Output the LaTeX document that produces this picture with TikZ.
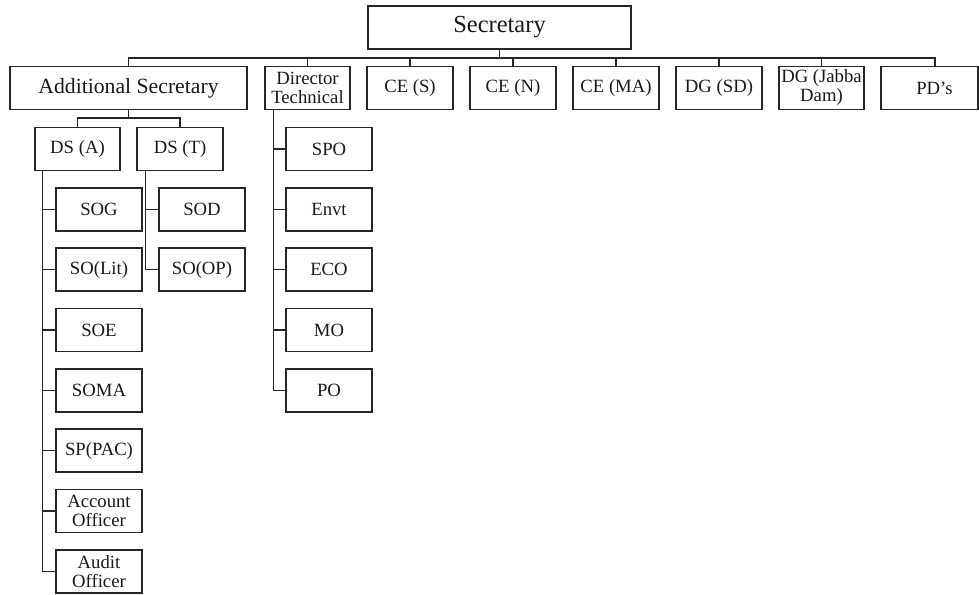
\documentclass[tikz,border=0pt]{standalone}
\usepackage{fontspec}
\setmainfont{Liberation Serif}
\begin{document}
\begin{tikzpicture}[x=1pt,y=-1pt,
  line/.style={draw=black!85,line width=1.4pt},
  box/.style={line,rectangle,inner sep=0pt,align=center,minimum height=43pt,
    font=\fontsize{18.7}{19}\selectfont,text=black!90},
  link/.style={line,line cap=rect}]
\useasboundingbox (0,0) rectangle (979,594);

% top level
\node[box,minimum width=263pt,minimum height=43pt,font=\fontsize{24.5}{26}\selectfont] (sec) at (499.5,27.5) {Secretary};

% second level
\node[box,minimum width=237pt,font=\fontsize{21.7}{23}\selectfont] (as) at (128.5,88) {Additional Secretary};
\node[box,minimum width=85pt] (dt)   at (307.5,88) {Director\\Technical};
\node[box,minimum width=86pt] (ces)  at (410,88)   {CE (S)};
\node[box,minimum width=86pt] (cen)  at (513,88)   {CE (N)};
\node[box,minimum width=86pt] (cema) at (616,88)   {CE (MA)};
\node[box,minimum width=86pt] (dgsd) at (719,88)   {DG (SD)};
\node[box,minimum width=85pt] (dgjd) at (821.5,88) {DG (Jabba\\Dam)};
\node[box,minimum width=97pt] (pds)  at (929.5,88) {\hspace*{10pt}PD’s};

% deputy secretaries
\node[box,minimum width=85pt] (dsa) at (77.5,149) {DS (A)};
\node[box,minimum width=86pt] (dst) at (180,149)  {DS (T)};

% sections under DS (A)
\node[box,minimum width=86pt] (sog)  at (99,209.5) {SOG};
\node[box,minimum width=86pt] (solit) at (99,269.5) {SO(Lit)};
\node[box,minimum width=86pt] (soe)  at (99,330) {SOE};
\node[box,minimum width=86pt] (soma) at (99,390.5) {SOMA};
\node[box,minimum width=86pt] (sppac) at (99,450.5) {SP(PAC)};
\node[box,minimum width=86pt] (acc)  at (99,511) {Account\\Officer};
\node[box,minimum width=86pt] (aud)  at (99,571.5) {Audit\\Officer};

% sections under DS (T)
\node[box,minimum width=86pt] (sod)  at (202,209.5) {SOD};
\node[box,minimum width=86pt] (soop) at (202,269.5) {SO(OP)};

% sections under Director Technical
\node[box,minimum width=86pt] (spo)  at (329,149) {SPO};
\node[box,minimum width=86pt] (envt) at (329,209.5) {Envt};
\node[box,minimum width=86pt] (eco)  at (329,269.5) {ECO};
\node[box,minimum width=86pt] (mo)   at (329,330) {MO};
\node[box,minimum width=86pt] (po)   at (329,390.5) {PO};

% bus under Secretary
\coordinate (bus) at (0,58);
\coordinate (pdtop) at ([xshift=5.5pt]pds.north);
\draw[link] (sec.south) -- (sec.south |- bus);
\draw[link] (as.north |- bus) -- (pdtop |- bus);
\foreach \n in {as,dt,ces,cen,cema,dgsd,dgjd}
  \draw[link] (\n.north |- bus) -- (\n.north);
\draw[link] (pdtop |- bus) -- (pdtop);

% Additional Secretary to deputy secretaries
\coordinate (asbus) at (0,118);
\draw[link] (as.south) -- (as.south |- asbus);
\draw[link] (dsa.north |- asbus) -- (dst.north |- asbus);
\draw[link] (dsa.north |- asbus) -- (dsa.north);
\draw[link] (dst.north |- asbus) -- (dst.north);

% side spines
\coordinate (spA) at ([xshift=8pt]dsa.south west);
\coordinate (spT) at ([xshift=9pt]dst.south west);
\coordinate (spD) at ([xshift=9pt]dt.south west);
\foreach \n in {sog,solit,soe,soma,sppac,acc,aud}
  \draw[link] (spA) |- (\n.west);
\foreach \n in {sod,soop}
  \draw[link] (spT) |- (\n.west);
\foreach \n in {spo,envt,eco,mo,po}
  \draw[link] (spD) |- (\n.west);
\end{tikzpicture}
\end{document}
